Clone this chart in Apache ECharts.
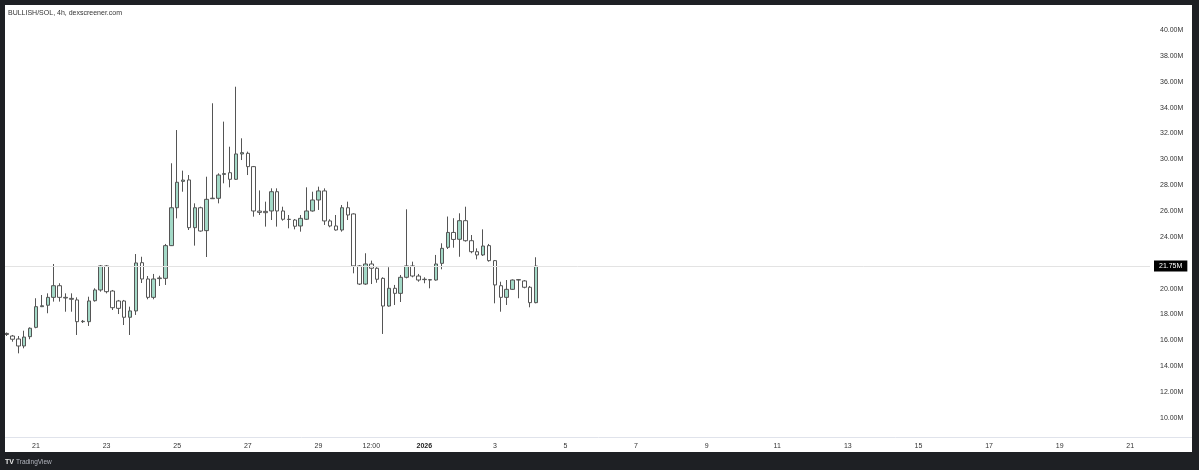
<!DOCTYPE html>
<html>
<head>
<meta charset="utf-8">
<script src="https://cdn.jsdelivr.net/npm/echarts@6/dist/echarts.min.js"></script>
<style>
html,body{margin:0;padding:0;background:#1e2024;}
#chart{width:1199px;height:470px;}
</style>
</head>
<body>
<div id="chart"></div>
<script>
// 4h candles, first bar = Dec 20 04:00 (bar index -5 relative to Dec 21 00:00)
const firstBar = -5;
const barsPerDay = 6;
const opens  = [16.54,16.34,16.11,15.57,16.29,17.01,18.61,18.72,19.33,20.23,19.33,19.25,19.13,17.45,17.45,19.07,19.90,21.76,19.82,19.05,19.05,17.79,18.28,22.01,20.75,19.33,20.78,20.80,23.33,26.26,28.30,28.41,24.72,26.26,24.49,26.96,26.99,28.84,28.97,28.46,30.42,30.47,29.44,26.00,25.98,26.01,27.50,26.01,25.37,25.31,24.85,25.37,26.01,26.86,27.56,25.24,24.85,24.54,26.26,25.78,21.76,20.36,21.91,21.58,20.80,18.66,20.03,19.64,20.88,21.76,20.98,20.70,20.70,20.67,21.96,23.20,24.35,23.82,25.26,23.71,22.86,22.61,23.33,22.17,20.23,19.33,19.95,20.67,20.60,20.11,18.92];
const closes = [16.46,16.09,15.57,16.26,16.94,18.61,18.68,19.33,20.23,19.33,19.28,19.18,17.45,17.48,19.05,19.90,21.76,19.77,18.53,18.48,17.79,18.28,21.99,20.75,19.33,20.75,20.83,23.33,26.26,28.23,28.40,24.72,26.26,24.46,26.91,27.00,28.79,28.90,28.46,30.42,30.52,29.44,26.01,25.90,25.88,27.50,26.01,25.37,25.35,24.83,25.44,26.01,26.86,27.56,25.24,24.85,24.54,26.26,25.70,21.76,20.36,21.91,21.58,20.73,18.66,20.03,19.64,20.88,21.76,20.98,20.67,20.73,20.67,21.91,23.12,24.35,23.81,25.26,23.71,22.86,22.61,23.30,22.17,20.29,19.33,19.95,20.67,20.70,20.11,18.92,21.75];
const lows   = [16.34,15.90,15.00,15.39,16.09,16.94,18.58,18.10,19.00,19.00,18.22,18.22,16.42,17.35,17.12,19.00,19.77,19.64,18.35,18.04,17.19,16.42,17.97,20.44,19.18,19.18,20.21,20.29,23.30,25.44,27.50,24.54,23.33,24.41,22.45,26.94,26.60,28.15,27.84,28.41,29.95,28.79,25.57,25.70,24.80,25.31,24.80,25.26,24.67,24.59,24.41,25.31,25.96,26.09,24.93,24.75,24.49,24.41,25.31,21.19,20.29,20.29,20.36,20.46,16.50,18.61,18.74,18.97,20.80,20.88,20.54,20.42,20.03,20.62,21.50,23.07,23.17,22.47,23.64,22.74,22.27,22.53,22.09,18.87,18.22,18.74,19.90,19.26,20.03,18.56,18.87];
const highs  = [16.61,16.42,16.34,16.75,17.01,19.26,19.51,19.64,21.91,20.42,19.64,19.64,19.33,17.58,19.38,20.03,21.83,21.83,19.90,19.13,19.13,18.61,22.68,22.47,20.98,21.14,21.00,23.46,29.70,32.27,29.13,28.79,26.60,26.34,28.66,34.34,28.92,32.92,30.98,35.62,31.63,30.60,29.49,27.60,26.73,27.76,27.76,26.34,25.70,25.39,25.70,27.84,27.50,27.89,27.76,25.37,25.70,26.47,26.73,25.83,21.83,22.74,22.17,21.66,20.88,21.66,20.29,21.06,26.14,22.09,21.14,20.88,20.75,22.61,23.51,25.58,25.45,25.83,26.34,24.15,23.12,24.59,23.46,22.22,20.54,20.67,20.72,20.75,20.67,20.21,22.43];
const lastPrice = 21.75;

// axis ticks (days from Dec 21 00:00)
const xTickDays   = [0, 2, 4, 6, 8, 9.5, 11, 13, 15, 17, 19, 21, 23, 25, 27, 29, 31];
const xTickLabels = ['21','23','25','27','29','12:00','2026','3','5','7','9','11','13','15','17','19','21'];
// 22.00M is hidden behind the last-price tag in the reference
const yTicks = [10, 12, 14, 16, 18, 20, 24, 26, 28, 30, 32, 34, 36, 38, 40];

const candleData = opens.map((o, k) => [(firstBar + k) / barsPerDay, o, closes[k], lows[k], highs[k]]);

const chart = echarts.init(document.getElementById('chart'));
const FONT = 'Liberation Sans';
chart.setOption({
  backgroundColor: '#ffffff',
  animation: false,
  textStyle: { fontFamily: FONT },
  grid: { left: 5, right: 49, top: 5, bottom: 33 },
  xAxis: {
    type: 'value',
    min: -0.878,
    max: 31.56,
    axisLine: { show: false },
    axisTick: { show: false },
    splitLine: { show: false },
    axisLabel: {
      customValues: xTickDays,
      fontSize: 7,
      color: '#333',
      margin: 6,
      fontFamily: FONT,
      formatter: function (v) {
        const k = xTickDays.findIndex(d => Math.abs(d - v) < 1e-6);
        if (k < 0) return '';
        const t = xTickLabels[k];
        return t === '2026' ? '{b|' + t + '}' : t;
      },
      rich: { b: { fontWeight: 'bold', fontSize: 7, color: '#222', fontFamily: FONT } }
    }
  },
  yAxis: {
    type: 'value',
    position: 'right',
    min: 8.53,
    max: 41.94,
    axisLine: { show: false },
    axisTick: { show: false },
    splitLine: { show: false },
    axisLabel: {
      customValues: yTicks,
      fontSize: 7,
      color: '#333',
      margin: 10,
      fontFamily: FONT,
      formatter: v => v.toFixed(2) + 'M'
    }
  },
  series: [{
    type: 'candlestick',
    data: candleData,
    barWidth: 4,
    itemStyle: {
      color: '#a3d9c7',
      color0: '#ffffff',
      borderColor: '#555555',
      borderColor0: '#555555',
      borderColorDoji: '#555555',
      borderWidth: 1
    },
    markLine: {
      silent: true,
      symbol: ['none', 'none'],
      lineStyle: { color: '#e3e3e3', width: 1, type: 'solid' },
      label: {
        position: 'end',
        distance: 4,
        formatter: lastPrice.toFixed(2) + 'M',
        backgroundColor: '#000000',
        color: '#ffffff',
        fontSize: 7,
        fontFamily: FONT,
        padding: [2, 5]
      },
      data: [{ yAxis: lastPrice }]
    }
  }],
  graphic: [
    { type: 'line', z: 50, shape: { x1: 5, y1: 437.5, x2: 1192, y2: 437.5 }, style: { stroke: '#e0e3eb', lineWidth: 1 } },
    { type: 'rect', z: 100, shape: { x: 0, y: 0, width: 1199, height: 5 }, style: { fill: '#1e2024' } },
    { type: 'rect', z: 100, shape: { x: 0, y: 0, width: 5, height: 470 }, style: { fill: '#1e2024' } },
    { type: 'rect', z: 100, shape: { x: 1192, y: 0, width: 7, height: 470 }, style: { fill: '#1e2024' } },
    { type: 'rect', z: 100, shape: { x: 0, y: 452, width: 1199, height: 18 }, style: { fill: '#1e2024' } },
    { type: 'text', z: 110, style: { text: 'BULLISH/SOL, 4h, dexscreener.com', x: 8, y: 13, fill: '#333', fontSize: 7, fontFamily: FONT, verticalAlign: 'middle' } },
    { type: 'text', z: 110, style: { text: 'TV', x: 5, y: 462, fill: '#e8e8e8', fontSize: 7, fontWeight: 'bold', fontFamily: FONT, verticalAlign: 'middle' } },
    { type: 'text', z: 110, style: { text: 'TradingView', x: 16, y: 462, fill: '#b2b5be', fontSize: 6.5, fontFamily: FONT, verticalAlign: 'middle' } }
  ]
});
</script>
</body>
</html>
